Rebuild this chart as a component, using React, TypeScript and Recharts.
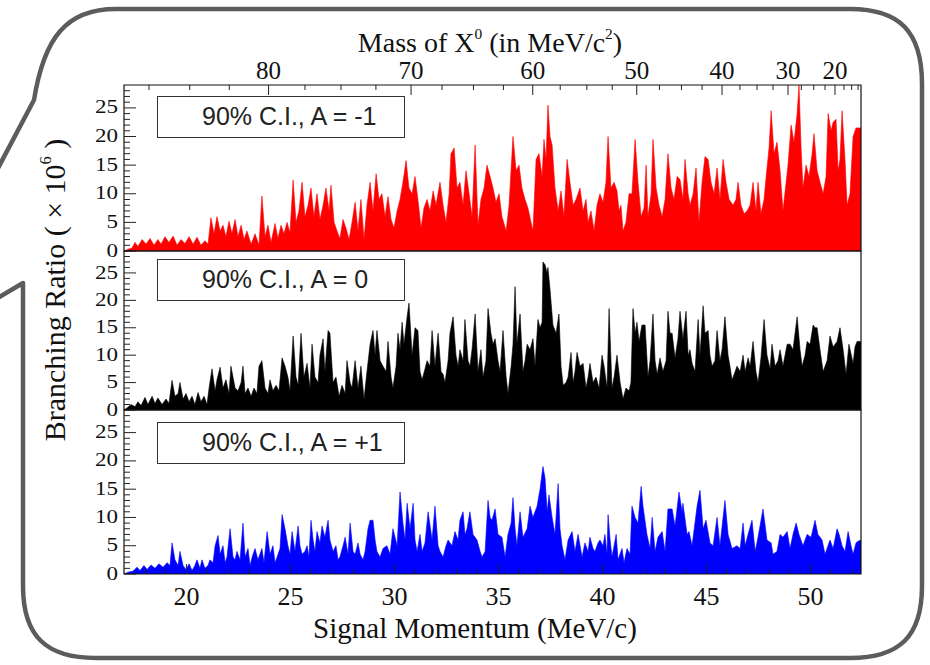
import React from 'react';
import { AreaChart, Area, XAxis, YAxis, ReferenceArea } from 'recharts';

// ---- A = -1 (red) ----
const redMomentum = [
  17.0, 17.19, 17.38, 17.53, 17.67, 17.87, 18.06, 18.25, 18.44, 18.63,
  18.78, 18.97, 19.16, 19.36, 19.55, 19.74, 19.93, 20.13, 20.32, 20.51,
  20.7, 20.89, 21.04, 21.18, 21.33, 21.47, 21.62, 21.76, 21.9, 22.05,
  22.19, 22.34, 22.48, 22.63, 22.77, 22.91, 23.11, 23.3, 23.49, 23.63,
  23.78, 23.92, 24.07, 24.26, 24.4, 24.55, 24.69, 24.84, 24.98, 25.13,
  25.27, 25.41, 25.56, 25.7, 25.85, 25.99, 26.13, 26.28, 26.42, 26.57,
  26.71, 26.86, 26.95, 27.1, 27.24, 27.38, 27.53, 27.67, 27.82, 27.96,
  28.11, 28.25, 28.39, 28.54, 28.68, 28.83, 28.97, 29.12, 29.26, 29.4,
  29.55, 29.69, 29.84, 29.98, 30.13, 30.27, 30.41, 30.56, 30.7, 30.85,
  30.99, 31.13, 31.28, 31.42, 31.57, 31.71, 31.86, 32.0, 32.19, 32.34,
  32.48, 32.63, 32.72, 32.87, 33.01, 33.15, 33.3, 33.44, 33.59, 33.73,
  33.88, 34.02, 34.16, 34.31, 34.45, 34.6, 34.74, 34.88, 35.03, 35.17,
  35.37, 35.51, 35.7, 35.85, 35.99, 36.13, 36.28, 36.42, 36.57, 36.66,
  36.81, 36.95, 37.1, 37.19, 37.29, 37.38, 37.48, 37.58, 37.72, 37.87,
  38.01, 38.15, 38.3, 38.44, 38.59, 38.73, 38.92, 39.07, 39.21, 39.31,
  39.45, 39.6, 39.74, 39.88, 40.03, 40.17, 40.27, 40.41, 40.56, 40.7,
  40.8, 40.89, 40.99, 41.13, 41.28, 41.42, 41.57, 41.71, 41.86, 42.0,
  42.1, 42.19, 42.34, 42.43, 42.58, 42.72, 42.87, 43.01, 43.15, 43.3,
  43.44, 43.59, 43.73, 43.87, 43.97, 44.12, 44.21, 44.36, 44.5, 44.64,
  44.79, 44.93, 45.08, 45.22, 45.37, 45.51, 45.65, 45.8, 45.94, 46.09,
  46.28, 46.42, 46.52, 46.66, 46.81, 46.95, 47.1, 47.24, 47.38, 47.48,
  47.62, 47.77, 47.87, 48.01, 48.11, 48.25, 48.39, 48.54, 48.68, 48.83,
  48.92, 49.07, 49.21, 49.36, 49.45, 49.55, 49.64, 49.79, 49.93, 50.08,
  50.17, 50.32, 50.46, 50.61, 50.75, 50.85, 50.99, 51.09, 51.23, 51.33,
  51.42, 51.52, 51.66, 51.76, 51.9, 52.05, 52.19, 52.29, 52.43,
];
const redRatio = [
  0, 0.3, 0.5, 1.5, 0.8, 2.0, 1.2, 2.2, 1.0, 2.0,
  1.2, 2.5, 1.5, 2.6, 1.0, 2.0, 1.3, 2.5, 1.2, 2.4,
  1.0, 1.8, 1.2, 5.8, 3.0, 6.0, 3.5, 4.5, 2.5, 5.2,
  3.0, 5.5, 2.5, 4.5, 2.0, 3.5, 1.2, 3.0, 1.0, 9.6,
  2.5, 4.5, 1.5, 4.8, 2.2, 4.5, 3.0, 5.0, 3.2, 12.4,
  5.0, 7.0, 12.0, 6.0, 8.0, 11.0, 6.0, 10.0, 5.5, 8.0,
  11.0, 7.0, 11.5, 5.0, 3.5, 2.2, 5.5, 4.0, 2.0, 5.0,
  8.5, 3.5, 9.0, 2.0, 8.0, 12.0, 7.0, 13.5, 9.0, 10.0,
  6.0, 9.5, 5.5, 4.0, 7.0, 9.0, 12.0, 15.8, 11.0, 10.0,
  13.0, 9.0, 4.0, 7.5, 9.0, 7.0, 10.5, 8.0, 12.0, 8.0,
  5.0, 10.0, 17.0, 18.0, 11.0, 12.0, 8.0, 14.0, 10.0, 6.0,
  18.5, 4.5, 9.0, 11.0, 15.0, 13.0, 11.0, 8.5, 10.0, 6.0,
  3.5, 8.0, 20.0, 14.0, 15.0, 11.0, 9.0, 7.5, 5.0, 3.5,
  16.0, 17.0, 13.0, 19.5, 16.0, 25.5, 20.0, 18.5, 11.0, 7.0,
  10.5, 6.0, 16.0, 12.0, 8.0, 9.0, 11.0, 7.0, 9.0, 5.0,
  7.0, 3.5, 8.0, 10.0, 8.5, 12.0, 20.0, 11.0, 12.0, 10.5,
  7.0, 8.0, 3.5, 5.0, 10.0, 10.0, 19.5, 12.0, 6.0, 7.5,
  15.0, 6.0, 10.0, 19.5, 11.0, 8.0, 6.0, 9.0, 17.0, 11.0,
  9.0, 13.0, 12.5, 9.0, 16.0, 10.0, 8.0, 10.0, 14.5, 5.0,
  12.0, 16.5, 16.0, 12.0, 10.0, 14.5, 9.0, 16.0, 12.0, 9.0,
  8.0, 9.0, 12.0, 8.0, 6.5, 7.0, 8.0, 12.0, 7.0, 12.0,
  6.5, 9.0, 13.0, 18.0, 24.5, 17.0, 19.0, 14.0, 7.0, 12.0,
  15.0, 22.0, 19.0, 24.0, 29.0, 18.0, 11.0, 15.0, 13.0, 17.0,
  20.5, 14.0, 12.0, 10.0, 13.0, 24.0, 21.0, 22.5, 23.0, 14.0,
  16.0, 24.5, 16.0, 8.0, 10.0, 20.0, 21.5, 21.5, 21.5,
];

// ---- A = 0 (black) ----
const blackMomentum = [
  17.0, 17.19, 17.34, 17.53, 17.67, 17.82, 18.01, 18.15, 18.35, 18.49,
  18.63, 18.83, 19.02, 19.16, 19.31, 19.45, 19.6, 19.69, 19.84, 19.98,
  20.13, 20.27, 20.41, 20.56, 20.7, 20.85, 20.99, 21.09, 21.23, 21.38,
  21.47, 21.62, 21.76, 21.9, 22.05, 22.14, 22.24, 22.34, 22.48, 22.63,
  22.72, 22.82, 22.96, 23.11, 23.25, 23.39, 23.49, 23.63, 23.78, 23.92,
  24.02, 24.16, 24.31, 24.45, 24.6, 24.74, 24.88, 24.98, 25.13, 25.27,
  25.37, 25.51, 25.65, 25.8, 25.94, 26.04, 26.18, 26.33, 26.42, 26.57,
  26.66, 26.81, 26.9, 27.05, 27.19, 27.34, 27.48, 27.63, 27.72, 27.87,
  27.96, 28.11, 28.25, 28.39, 28.54, 28.68, 28.83, 28.97, 29.07, 29.16,
  29.31, 29.45, 29.6, 29.69, 29.84, 29.93, 30.08, 30.17, 30.27, 30.37,
  30.46, 30.61, 30.7, 30.85, 30.99, 31.13, 31.23, 31.33, 31.47, 31.57,
  31.71, 31.81, 31.95, 32.1, 32.24, 32.34, 32.43, 32.58, 32.67, 32.82,
  32.96, 33.06, 33.15, 33.3, 33.39, 33.54, 33.63, 33.73, 33.88, 34.02,
  34.16, 34.26, 34.4, 34.5, 34.64, 34.74, 34.84, 34.98, 35.08, 35.22,
  35.37, 35.46, 35.61, 35.7, 35.8, 35.89, 36.04, 36.18, 36.28, 36.38,
  36.52, 36.66, 36.76, 36.9, 37.0, 37.1, 37.14, 37.24, 37.34, 37.38,
  37.48, 37.62, 37.77, 37.91, 38.01, 38.11, 38.25, 38.35, 38.49, 38.59,
  38.68, 38.78, 38.92, 39.07, 39.21, 39.31, 39.4, 39.55, 39.69, 39.84,
  39.98, 40.08, 40.22, 40.32, 40.46, 40.56, 40.7, 40.85, 40.99, 41.13,
  41.28, 41.37, 41.47, 41.57, 41.66, 41.76, 41.9, 42.05, 42.19, 42.29,
  42.43, 42.53, 42.63, 42.77, 42.91, 43.06, 43.15, 43.25, 43.35, 43.49,
  43.63, 43.73, 43.87, 44.02, 44.12, 44.21, 44.31, 44.45, 44.6, 44.69,
  44.84, 44.93, 45.08, 45.17, 45.27, 45.41, 45.51, 45.65, 45.75, 45.89,
  46.04, 46.13, 46.23, 46.38, 46.47, 46.62, 46.76, 46.86, 47.0, 47.1,
  47.24, 47.38, 47.48, 47.62, 47.77, 47.91, 48.06, 48.15, 48.3, 48.44,
  48.54, 48.68, 48.78, 48.88, 49.02, 49.16, 49.36, 49.5, 49.6, 49.74,
  49.84, 49.98, 50.13, 50.22, 50.32, 50.46, 50.61, 50.8, 50.94, 51.09,
  51.28, 51.42, 51.57, 51.71, 51.85, 52.05, 52.14, 52.24, 52.43,
];
const blackRatio = [
  0, 0.5, 1.0, 0.6, 1.5, 0.8, 2.3, 1.0, 2.5, 1.2,
  2.2, 1.0, 2.0, 1.2, 5.4, 2.5, 3.0, 5.0, 2.0, 3.0,
  1.5, 2.5, 1.0, 3.2, 1.5, 2.5, 1.0, 4.0, 7.5, 3.5,
  5.5, 7.8, 4.0, 5.5, 3.0, 8.0, 6.0, 4.0, 3.5, 5.0,
  8.0, 3.0, 4.0, 2.5, 4.0, 3.0, 8.0, 9.0, 4.0, 3.0,
  5.5, 3.5, 4.5, 3.5, 9.5, 8.0, 6.0, 3.5, 13.5, 6.0,
  4.5, 14.0, 6.0, 8.5, 4.0, 12.0, 6.0, 5.0, 10.0, 13.0,
  7.0, 14.5, 14.0, 5.0, 6.0, 2.5, 4.5, 3.0, 9.0, 5.0,
  4.0, 9.0, 4.0, 8.0, 2.0, 7.0, 12.0, 14.5, 10.0, 14.5,
  9.0, 8.0, 7.0, 12.5, 6.0, 4.0, 8.0, 14.0, 11.0, 16.0,
  12.0, 17.0, 19.5, 10.0, 15.0, 14.5, 7.0, 5.5, 7.5, 9.0,
  8.0, 14.5, 8.0, 14.0, 7.0, 6.5, 5.0, 9.0, 14.0, 17.0,
  10.0, 8.0, 11.0, 9.0, 16.5, 9.0, 8.0, 11.0, 17.5, 7.0,
  11.0, 6.0, 9.0, 18.5, 14.0, 12.0, 13.0, 9.0, 7.0, 14.5,
  6.0, 3.0, 8.0, 12.0, 22.5, 12.0, 17.5, 7.0, 9.0, 12.0,
  11.0, 13.0, 8.0, 16.5, 15.0, 16.0, 27.0, 26.5, 25.0, 26.0,
  22.0, 15.5, 14.0, 17.5, 8.0, 4.5, 5.0, 6.0, 10.5, 5.0,
  7.0, 10.5, 8.0, 8.5, 4.0, 6.0, 8.5, 5.0, 6.0, 4.0,
  10.0, 8.0, 4.0, 18.5, 4.0, 6.0, 10.0, 5.0, 2.0, 4.0,
  3.5, 5.0, 18.5, 14.0, 16.0, 12.5, 15.5, 15.5, 6.0, 9.0,
  17.5, 9.0, 6.5, 9.5, 7.0, 9.0, 18.0, 14.0, 14.0, 9.5,
  13.0, 18.0, 13.0, 18.0, 10.0, 11.0, 8.5, 7.0, 16.5, 10.0,
  19.0, 14.0, 14.5, 10.0, 8.0, 9.0, 14.5, 9.0, 11.0, 17.0,
  10.0, 8.0, 5.5, 7.0, 8.0, 7.0, 10.0, 7.0, 9.5, 8.0,
  12.5, 7.0, 5.0, 9.5, 16.5, 10.0, 7.5, 12.0, 8.0, 9.0,
  11.0, 8.0, 10.0, 12.0, 12.0, 11.0, 17.0, 11.0, 8.0, 10.0,
  12.5, 12.0, 15.5, 15.0, 15.0, 11.0, 7.0, 9.0, 13.5, 11.5,
  12.5, 15.0, 11.0, 6.5, 12.0, 8.5, 11.5, 12.5, 12.5,
];

// ---- A = +1 (blue) ----
const blueMomentum = [
  17.0, 17.19, 17.43, 17.63, 17.77, 17.96, 18.11, 18.3, 18.49, 18.68,
  18.88, 19.07, 19.21, 19.31, 19.45, 19.6, 19.69, 19.84, 19.98, 20.13,
  20.27, 20.41, 20.51, 20.65, 20.75, 20.89, 21.04, 21.13, 21.28, 21.38,
  21.52, 21.62, 21.76, 21.86, 21.95, 22.1, 22.24, 22.34, 22.43, 22.58,
  22.72, 22.82, 22.96, 23.06, 23.16, 23.3, 23.44, 23.63, 23.73, 23.88,
  24.02, 24.16, 24.26, 24.36, 24.5, 24.6, 24.74, 24.88, 24.98, 25.08,
  25.22, 25.37, 25.46, 25.56, 25.7, 25.8, 25.89, 25.99, 26.09, 26.18,
  26.28, 26.42, 26.52, 26.66, 26.81, 26.9, 27.05, 27.19, 27.29, 27.38,
  27.53, 27.63, 27.77, 27.87, 28.01, 28.11, 28.25, 28.35, 28.49, 28.59,
  28.73, 28.83, 28.97, 29.07, 29.16, 29.31, 29.45, 29.64, 29.79, 29.93,
  30.13, 30.27, 30.41, 30.51, 30.61, 30.75, 30.9, 30.99, 31.09, 31.23,
  31.33, 31.47, 31.62, 31.81, 31.95, 32.1, 32.19, 32.34, 32.48, 32.58,
  32.77, 32.91, 33.06, 33.15, 33.3, 33.39, 33.49, 33.63, 33.78, 33.97,
  34.12, 34.21, 34.36, 34.5, 34.6, 34.69, 34.84, 34.98, 35.17, 35.32,
  35.46, 35.61, 35.7, 35.8, 35.89, 36.04, 36.18, 36.38, 36.52, 36.66,
  36.86, 37.0, 37.14, 37.24, 37.34, 37.43, 37.58, 37.72, 37.87, 37.96,
  38.06, 38.2, 38.35, 38.54, 38.68, 38.83, 39.02, 39.16, 39.31, 39.4,
  39.55, 39.64, 39.79, 39.88, 40.03, 40.12, 40.22, 40.27, 40.37, 40.46,
  40.66, 40.75, 40.94, 41.04, 41.18, 41.33, 41.42, 41.57, 41.71, 41.86,
  41.95, 42.14, 42.29, 42.39, 42.53, 42.67, 42.87, 43.01, 43.15, 43.35,
  43.49, 43.68, 43.83, 43.87, 44.07, 44.16, 44.31, 44.55, 44.69, 44.84,
  44.98, 45.17, 45.32, 45.51, 45.65, 45.89, 46.04, 46.23, 46.47, 46.62,
  46.76, 46.86, 47.0, 47.19, 47.34, 47.48, 47.72, 47.91, 48.11, 48.2,
  48.39, 48.54, 48.68, 48.88, 49.02, 49.16, 49.31, 49.45, 49.64, 49.84,
  50.03, 50.22, 50.36, 50.56, 50.7, 50.94, 51.09, 51.28, 51.38, 51.52,
  51.66, 51.81, 51.95, 52.05, 52.19, 52.29, 52.43,
];
const blueRatio = [
  0, 0.3, 0.5, 1.2, 0.6, 1.5, 0.8, 1.6, 1.0, 1.8,
  1.2, 2.0, 1.5, 5.5, 2.5, 1.5, 4.0, 1.5, 0.8, 1.8,
  0.6, 1.5, 2.5, 1.0, 2.5, 1.0, 1.5, 2.5, 2.0, 5.0,
  6.8, 3.5, 5.0, 2.0, 3.0, 8.0, 3.0, 2.5, 4.0, 2.5,
  9.0, 3.0, 4.5, 1.5, 3.0, 4.5, 2.5, 4.5, 2.0, 7.5,
  3.5, 5.0, 2.0, 3.0, 4.5, 10.5, 8.0, 5.0, 3.5, 7.5,
  4.0, 8.5, 5.0, 3.5, 4.0, 5.0, 3.0, 9.5, 6.0, 4.0,
  7.5, 5.5, 8.5, 6.5, 9.5, 6.0, 4.0, 5.0, 2.5, 3.0,
  5.0, 6.5, 3.5, 9.0, 4.0, 3.5, 5.5, 3.5, 2.5, 4.0,
  8.0, 9.5, 9.5, 6.0, 4.0, 3.0, 4.5, 5.0, 3.5, 8.0,
  5.0, 14.5, 9.0, 6.0, 12.5, 8.0, 12.5, 6.0, 4.0, 7.0,
  4.0, 5.5, 11.0, 6.0, 12.0, 5.0, 4.0, 3.0, 5.0, 6.0,
  5.0, 7.5, 6.0, 9.5, 11.0, 7.0, 8.0, 11.0, 7.0, 6.0,
  4.0, 3.0, 4.0, 13.0, 10.0, 9.5, 11.5, 7.0, 6.5, 3.0,
  7.0, 9.0, 13.5, 8.0, 5.0, 11.0, 6.5, 8.0, 12.0, 10.0,
  12.0, 15.0, 19.0, 17.0, 11.0, 14.0, 10.0, 7.0, 16.0, 8.0,
  5.0, 2.5, 6.0, 7.5, 4.0, 7.0, 3.0, 5.5, 4.0, 6.5,
  4.5, 4.0, 5.5, 6.0, 5.0, 7.0, 3.5, 10.5, 6.0, 3.0,
  7.0, 2.5, 4.5, 2.0, 4.5, 3.5, 12.0, 10.0, 9.0, 15.5,
  12.0, 7.0, 4.5, 10.0, 4.0, 6.5, 7.5, 4.0, 11.5, 11.5,
  8.5, 14.5, 11.0, 12.5, 7.0, 7.5, 5.0, 12.0, 14.8, 8.0,
  9.5, 5.5, 5.0, 10.0, 5.0, 13.0, 7.0, 4.5, 5.0, 4.5,
  9.0, 5.0, 7.0, 9.5, 4.0, 6.5, 11.5, 6.0, 5.5, 3.5,
  4.0, 7.0, 6.5, 7.5, 4.5, 7.0, 9.0, 7.0, 5.0, 7.0,
  6.5, 9.5, 7.0, 6.0, 3.5, 6.0, 4.5, 8.0, 7.0, 5.0,
  4.0, 7.5, 5.0, 3.5, 5.5, 5.8, 6.0,
];

// axis ticks
const momentumTicks = [20, 25, 30, 35, 40, 45, 50];
const momentumMinorTicks = [
  18, 19, 21, 22, 23, 24, 26, 27, 28, 29, 31, 32, 33, 34, 36, 37, 38, 39,
  41, 42, 43, 44, 46, 47, 48, 49, 51, 52,
];
const massLabels = [80, 70, 60, 50, 40, 30, 20];
const massLabelMomentum = [23.95, 30.8, 36.65, 41.65, 45.75, 48.92, 51.18];
const massMinorMomentum = [
  18.2, 20.16, 22.06, 25.7, 27.43, 29.11, 32.29, 33.8, 35.24, 37.97, 39.25,
  40.47, 42.74, 43.8, 44.79, 46.61, 47.43, 48.2, 49.56, 50.16, 50.7, 51.61,
  51.98, 52.29,
];
const ratioTicks = [0, 5, 10, 15, 20, 25];
const ratioMinorTicks = [
  1, 2, 3, 4, 6, 7, 8, 9, 11, 12, 13, 14, 16, 17, 18, 19, 21, 22, 23, 24, 26,
  27, 28,
];

const X_DOMAIN: [number, number] = [17, 52.43];
const Y_DOMAIN: [number, number] = [0, 29];
const SERIF = '"Liberation Serif", "DejaVu Serif", serif';
const SANS = '"Liberation Sans", Arial, sans-serif';

const toRows = (xs: number[], ys: number[]) =>
  xs.map((p, i) => ({ p, v: ys[i] }));

// y labels in the original are squashed vertically
const YTick = (props: any) => {
  const { x, y, payload } = props;
  const major = ratioTicks.includes(payload.value);
  return (
    <g>
      <line x1={x} x2={x + (major ? 12 : 6)} y1={y} y2={y} stroke='#222' />
      {major && (
        <text
          x={x - 6}
          y={y + 7}
          textAnchor='end'
          fontFamily={SERIF}
          fontSize={23}
          fill='#111'
          transform={`translate(0 ${y}) scale(1 0.8) translate(0 ${-y})`}
        >
          {payload.value}
        </text>
      )}
    </g>
  );
};

const TopTick = (props: any) => {
  const { x, y, payload } = props;
  const idx = massLabelMomentum.indexOf(payload.value);
  const major = idx >= 0;
  return (
    <g>
      <line x1={x} x2={x} y1={y} y2={y + (major ? 10 : 5)} stroke='#222' />
      {major && (
        <text x={x} y={y - 6} textAnchor='middle' fontFamily={SERIF} fontSize={25} fill='#111'>
          {massLabels[idx]}
        </text>
      )}
    </g>
  );
};

const BottomTick = (props: any) => {
  const { x, y, payload } = props;
  const major = momentumTicks.includes(payload.value);
  return (
    <g>
      <line x1={x} x2={x} y1={y} y2={y - (major ? 10 : 5)} stroke='#222' />
      {major && (
        <text x={x} y={y + 31} textAnchor='middle' fontFamily={SERIF} fontSize={26} fill='#111'>
          {payload.value}
        </text>
      )}
    </g>
  );
};

type PanelProps = {
  rows: { p: number; v: number }[];
  color: string;
  top: number;
  height: number;
  margin: { top: number; bottom: number };
  axis: 'top' | 'bottom' | 'none';
};

const Panel = ({ rows, color, top, height, margin, axis }: PanelProps) => (
  <div style={{ position: 'absolute', left: 0, top }}>
    <AreaChart
      width={930}
      height={height}
      data={rows}
      margin={{ top: margin.top, right: 69, left: 64, bottom: margin.bottom }}
      style={{ overflow: 'visible' }}
    >
      {axis === 'top' && (
        <XAxis
          dataKey='p'
          type='number'
          orientation='top'
          domain={X_DOMAIN}
          allowDataOverflow
          height={30}
          ticks={[...massLabelMomentum, ...massMinorMomentum].sort((a, b) => a - b)}
          interval={0}
          tick={<TopTick />}
          tickSize={0}
          tickMargin={0}
          axisLine={false}
        />
      )}
      {axis === 'bottom' && (
        <XAxis
          dataKey='p'
          type='number'
          domain={X_DOMAIN}
          allowDataOverflow
          height={40}
          ticks={[...momentumTicks, ...momentumMinorTicks].sort((a, b) => a - b)}
          interval={0}
          tick={<BottomTick />}
          tickSize={0}
          tickMargin={0}
          axisLine={false}
        />
      )}
      {axis === 'none' && (
        <XAxis dataKey='p' type='number' domain={X_DOMAIN} allowDataOverflow hide />
      )}
      <YAxis
        type='number'
        domain={Y_DOMAIN}
        allowDataOverflow
        width={60}
        ticks={[...ratioTicks, ...ratioMinorTicks].sort((a, b) => a - b)}
        interval={0}
        tick={<YTick />}
        tickSize={0}
        tickMargin={0}
        axisLine={false}
      />
      <Area
        type='linear'
        dataKey='v'
        stroke={color}
        strokeWidth={0.6}
        fill={color}
        fillOpacity={1}
        dot={false}
        activeDot={false}
        isAnimationActive={false}
      />
      <ReferenceArea
        x1={X_DOMAIN[0]}
        x2={X_DOMAIN[1]}
        y1={Y_DOMAIN[0]}
        y2={Y_DOMAIN[1]}
        fill='none'
        stroke='#111'
        strokeWidth={1.2}
        ifOverflow='visible'
      />
    </AreaChart>
  </div>
);

const LegendBox = ({ top, text }: { top: number; text: string }) => (
  <div
    style={{
      position: 'absolute',
      left: 157,
      top,
      width: 248,
      height: 42,
      boxSizing: 'border-box',
      border: '1.5px solid #333',
      background: '#fff',
      fontFamily: SANS,
      fontSize: 25,
      lineHeight: '39px',
      paddingLeft: 44,
      color: '#222',
      whiteSpace: 'nowrap',
    }}
  >
    {text}
  </div>
);

const sup: React.CSSProperties = { fontSize: '0.55em', position: 'relative', top: '-0.85em' };

const App = () => (
  <div
    style={{
      position: 'absolute',
      left: 0,
      top: 0,
      width: 930,
      height: 665,
      background: '#fff',
      overflow: 'hidden',
      fontFamily: SERIF,
      color: '#111',
    }}
  >
    <svg width={930} height={665} style={{ position: 'absolute', left: 0, top: 0 }}>
      <path
        d='M -4 172 L 34 100 C 44 38 66 9 116 9 L 850 9 C 900 9 922 32 922 84 L 922 586 C 922 636 900 658 850 658 L 96 658 C 46 658 23 636 23 586 L 23 283 L -4 299'
        fill='none'
        stroke='#5c5c5c'
        strokeWidth={4.5}
        strokeLinejoin='round'
      />
    </svg>

    <Panel rows={toRows(redMomentum, redRatio)} color='#ff0000' top={0} height={265} margin={{ top: 55, bottom: 14 }} axis='top' />
    <Panel rows={toRows(blackMomentum, blackRatio)} color='#000000' top={249} height={175} margin={{ top: 2, bottom: 14 }} axis='none' />
    <Panel rows={toRows(blueMomentum, blueRatio)} color='#0000ff' top={408} height={206} margin={{ top: 2, bottom: 0 }} axis='bottom' />

    <LegendBox top={96} text='90% C.I., A = -1' />
    <LegendBox top={259} text='90% C.I., A = 0' />
    <LegendBox top={422} text='90% C.I., A = +1' />

    <div style={{ position: 'absolute', left: 290, width: 400, top: 29, lineHeight: '28px', textAlign: 'center', fontSize: 28, whiteSpace: 'nowrap' }}>
      Mass of X<span style={sup}>0</span> (in MeV/c<span style={sup}>2</span>)
    </div>
    <div style={{ position: 'absolute', left: 275, width: 400, top: 614, lineHeight: '29px', textAlign: 'center', fontSize: 29, whiteSpace: 'nowrap' }}>
      Signal Momentum (MeV/c)
    </div>
    <div
      style={{
        position: 'absolute',
        left: 55 - 200,
        top: 290 - 15,
        width: 400,
        lineHeight: '30px',
        textAlign: 'center',
        fontSize: 30,
        whiteSpace: 'nowrap',
        transform: 'rotate(-90deg)',
        transformOrigin: '200px 15px',
      }}
    >
      Branching Ratio ( × 10<span style={sup}>6</span> )
    </div>
  </div>
);

export default App;
